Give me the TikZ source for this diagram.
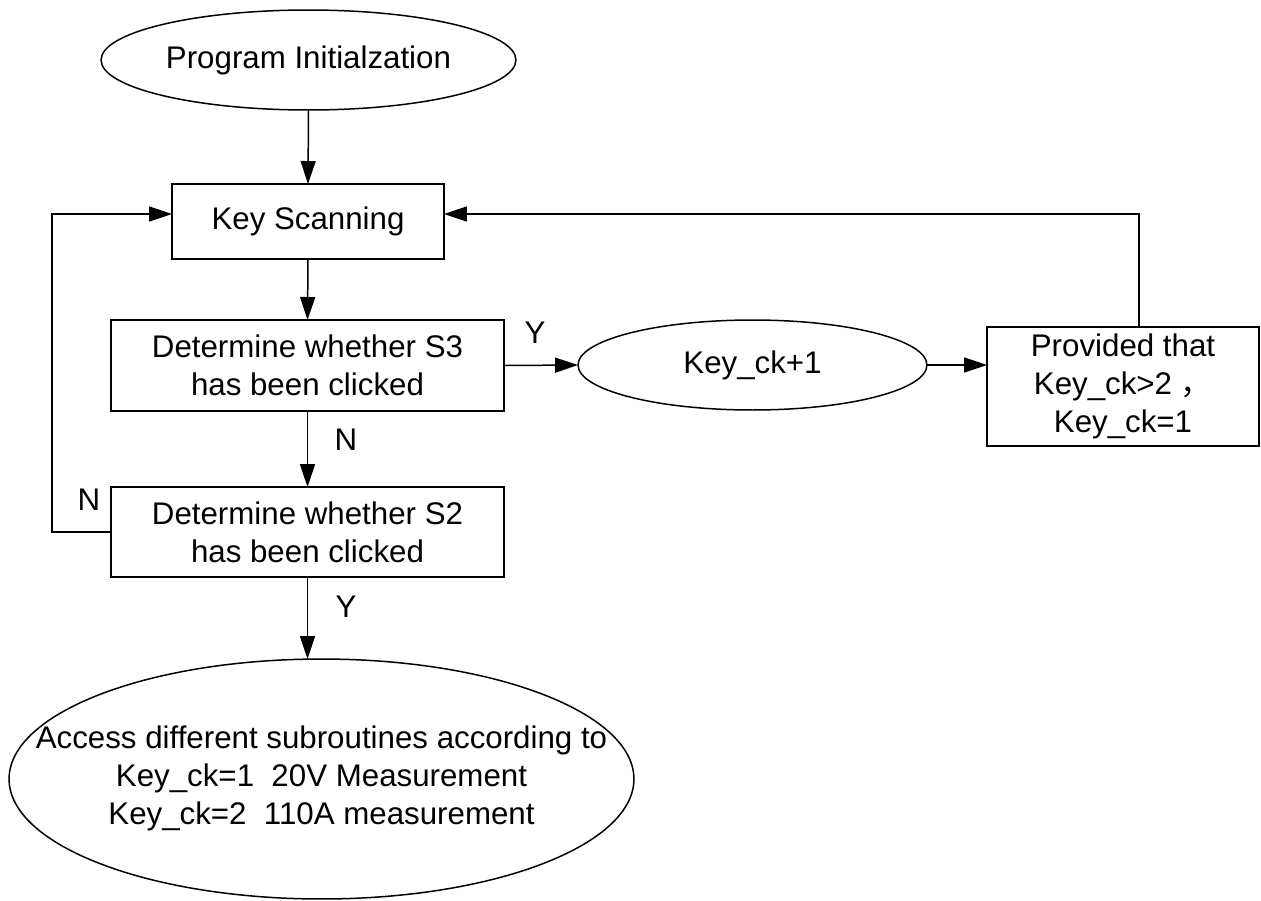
\documentclass[tikz,border=0pt]{standalone}
\usepackage{fontspec}
\setmainfont{Liberation Sans}
\newfontfamily\cjk{Noto Sans CJK SC}
\usepackage{tikz}
\usetikzlibrary{arrows.meta,shapes.geometric}

\begin{document}
\begin{tikzpicture}[
    x=0.02cm, y=-0.02cm,
    font=\fontsize{17.8}{21.8}\selectfont,
    line width=0.85pt,
    block/.style={rectangle, draw, align=center, inner sep=0pt, outer sep=0pt},
    term/.style={ellipse, draw, align=center, inner sep=0pt, outer sep=0pt},
    lbl/.style={inner sep=0pt},
    arrow/.style={-{Triangle[length=0.46cm, width=0.3cm]}}
]
\useasboundingbox (0,0) rectangle (1261,900);

% Main column
\node[term, minimum width=8.3cm, minimum height=2cm] (init) at (308.5,60) {Program Initialzation};
\node[block, minimum width=5.44cm, minimum height=1.5cm] (scan) at (308,221.5) {Key Scanning};
\node[block, minimum width=7.86cm, minimum height=1.82cm] (s3) at (307.5,365.5) {Determine whether S3\\has been clicked};
\node[block, minimum width=7.86cm, minimum height=1.8cm] (s2) at (307.5,532) {Determine whether S2\\has been clicked};
\node[term, minimum width=12.5cm, minimum height=4.8cm] (out) at (321.5,779)
    {\makebox[0pt]{\begin{tabular}{@{}c@{}}Access different subroutines according to\\Key\_ck=1~~20V Measurement\\Key\_ck=2~~110A measurement\end{tabular}}};

% Counter branch
\node[term, minimum width=6.98cm, minimum height=1.8cm] (ck) at (752.5,365) {Key\_ck+1};
\node[block, minimum width=5.44cm, minimum height=2.38cm] (prov) at (1123,386.5) {Provided that\\Key\_ck>2 {\cjk ，}\\Key\_ck=1};

% Loop corners
\coordinate (lx) at (52,214);
\coordinate (rx) at (1139,214);

% Connectors
\draw[arrow] (init.south) -- (scan.north);
\draw[arrow] (scan.south) -- (s3.north);
\draw[arrow] (s3.south) -- (s2.north);
\draw[arrow] (s2.south) -- (s2.south |- out.north);
\draw[arrow] (s3.east) -- (ck.west);
\draw[arrow] (ck.east) -- (ck.east -| prov.west);
\draw[arrow] (s2.west) -| (lx) -- (lx -| scan.west);
\draw[arrow] (rx |- prov.north) -- (rx) -- (rx -| scan.east);

% Labels
\node[lbl] (y1) at (535,333) {Y};
\node[lbl] (n1) at (346,440) {N};
\node[lbl] (n2) at (89,500) {N};
\node[lbl] (y2) at (346,607) {Y};

\end{tikzpicture}
\end{document}
